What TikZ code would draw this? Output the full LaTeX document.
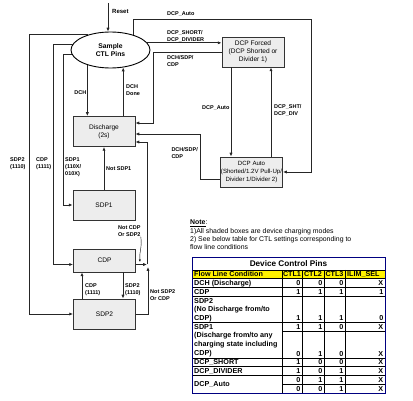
\documentclass[tikz,border=0pt]{standalone}
\usepackage{fontspec}
\setmainfont{Liberation Sans}
\usetikzlibrary{arrows.meta, shapes.geometric}

\begin{document}
\begin{tikzpicture}[x = 1pt, y = -1pt,
    mode/.style = {draw = black!80, fill = black!7, line width = 0.9pt, minimum width = 62pt, minimum height = 30pt, inner xsep = 0.5pt, inner ysep = 1pt, align = center, font = \fontsize{6.6}{7.8}\selectfont},
    flow/.style = {-{Latex[length = 3.8pt, width = 3.2pt]}, line width = 0.8pt, draw = black!85},
    cond/.style = {font = \bfseries\fontsize{5.5}{6.8}\selectfont, align = left, anchor = west, inner sep = 0pt},
    cell/.style = {font = \bfseries\fontsize{7.2}{7.5}\selectfont, inner sep = 0pt},
    rule/.style = {line width = 0.75pt}]
  \useasboundingbox (0,0) rectangle (413,401);

  \node[ellipse, draw, line width = 0.9pt, minimum width = 79pt, minimum height = 36pt, inner sep = 0pt, align = center, font = \bfseries\fontsize{6.8}{8.2}\selectfont] (ctl) at (110.5,50) {Sample\\CTL Pins};
  \node[mode] (dis)  at (104,131.5) {Discharge\\(2s)};
  \node[mode] (sdp1) at (104,205)   {SDP1};
  \node[mode, minimum height = 23pt] (cdp) at (104.5,260.5) {CDP};
  \node[mode] (sdp2) at (104.5,314) {SDP2};
  \node[mode] (dcpf) at (253,52)    {DCP Forced\\(DCP Shorted or\\Divider 1)};
  \node[mode, font = \fontsize{6.1}{7.8}\selectfont] (dcpa) at (251.5,172) {DCP Auto\\(Shorted/1.2V Pull-Up/\\Divider 1/Divider 2)};

  \coordinate (rst)     at (108,3);
  \coordinate (railA)   at (29,0);
  \coordinate (railB)   at (53,0);
  \coordinate (railC)   at (63,0);
  \coordinate (railD)   at (153,123);
  \coordinate (railE)   at (200,134);
  \coordinate (inC)     at (0,142);
  \coordinate (jn)      at (147,0);
  \coordinate (jnup)    at (148,267);
  \coordinate (colL)    at (82,0);
  \coordinate (colR)    at (123,0);
  \coordinate (colF)    at (231,0);
  \coordinate (colA)    at (271,0);
  \coordinate (autotop) at (311,19);
  \coordinate (cdpin)   at ([yshift = -4pt]cdp.west);
  \coordinate (cdpout)  at ([yshift = -4pt]cdp.east);
  \coordinate (ncdptip) at (140,262);

  \draw[flow] (rst) -- (rst |- ctl.north);
  \draw[flow] (ctl.146) -| (railA |- sdp2.west) -- (sdp2.west);
  \draw[flow] (ctl.171) -| (railB |- cdpin) -- (cdpin);
  \draw[flow] (ctl.186) -| (railC |- sdp1.west) -- (sdp1.west);
  \draw[flow] (ctl.213) -- (ctl.213 |- dis.north);
  \draw[flow] (ctl.306 |- dis.north) -- (ctl.306);
  \draw[flow] (sdp1.north) -- (sdp1.north |- dis.south);
  \draw[flow] (colL |- sdp2.north) -- (colL |- cdp.south);
  \draw[flow] (colR |- cdp.south) -- (colR |- sdp2.north);
  \draw[flow] (cdpout) -- (jn |- cdpout);
  \draw[flow] (sdp2.east) -| (jnup);
  \draw[flow] (jn |- cdpout) |- (inC -| dis.east);
  \draw[flow] (dcpf.west) -| (railD) -- (railD -| dis.east);
  \draw[flow] ([yshift = -7pt]dcpa.west) -| (railE) -- (railE -| dis.east);
  \draw[flow] (ctl.33) |- (autotop) |- (dcpa.east);
  \draw[flow] (ctl.11) -- (ctl.11 -| dcpf.west);
  \draw[flow] (colF |- dcpf.south) -- (colF |- dcpa.north);
  \draw[flow] (colA |- dcpa.north) -- (colA |- dcpf.south);

  \node[cond, font = \bfseries\fontsize{6}{7}\selectfont] (rstl) at (112,11) {Reset};
  \node[cond] (autol)  at (167,14)  {DCP\_Auto};
  \node[cond] (shortl) at (167,36)  {DCP\_SHORT/\\DCP\_DIVIDER};
  \node[cond] (backfl) at (167,61)  {DCH/SDP/\\CDP};
  \node[cond, anchor = east] (dchl) at (86.5,93) {DCH};
  \node[cond] (donel)  at (126,90)  {DCH\\Done};
  \node[cond] (sdp2l)  at (10,164)  {SDP2\\(1110)};
  \node[cond] (cdpl)   at (36,164)  {CDP\\(1111)};
  \node[cond] (sdp1l)  at (65,167)  {SDP1\\(110X/\\010X)};
  \node[cond] (nsdp1l) at (106,169) {Not SDP1};
  \node[cond] (fautol) at (202,108) {DCP\_Auto};
  \node[cond] (shtl)   at (274,110) {DCP\_SHT/\\DCP\_DIV};
  \node[cond, anchor = east] (backal) at (198,153) {DCH/SDP/\\CDP};
  \node[cond, align = center] (ncdp) at (118,231) {Not CDP\\Or SDP2};
  \node[cond] (upl)    at (85,290)  {CDP\\(1111)};
  \node[cond] (downl)  at (125,290) {SDP2\\(1110)};
  \node[cond] (nsdp2l) at (150,295) {Not SDP2\\Or CDP};
  \draw[-{Latex[length = 2.5pt, width = 2pt]}, line width = 0.4pt] (ncdp.south east) to[out = -80, in = 95] (ncdptip);

  \node[anchor = north west, align = left, inner sep = 0pt, font = \fontsize{6.9}{8.2}\selectfont] (note) at (190,220) {\textbf{\underline{Note}}:\\1)All shaded boxes are device charging modes\\2) See below table for CTL settings corresponding to\\flow line conditions};

  \fill[yellow] (192,270) rectangle (385,278.8);
  \foreach \y in {270, 278.8, 287.6, 296.4, 322.8, 358, 366.8, 375.6}
    \draw[rule] (192,\y) -- (385,\y);
  \foreach \y in {331.6, 384.4}
    \draw[rule] (282,\y) -- (385,\y);
  \foreach \x in {282, 302, 324, 345}
    \draw[rule] (\x,270) -- (\x,393.2);
  \draw[line width = 0.9pt, draw = blue!50!black] (192,257) rectangle (385,393.2);

  \node[cell, font = \bfseries\fontsize{8.2}{9}\selectfont] (title) at (288.5,263.5) {Device Control Pins};
  \node[cell, anchor = west] (h0) at (194,274.4) {Flow Line Condition};
  \node[cell] (h1) at (292,274.4)   {CTL1};
  \node[cell] (h2) at (313,274.4)   {CTL2};
  \node[cell] (h3) at (334.5,274.4) {CTL3};
  \node[cell, anchor = west] (h4) at (347,274.4) {ILIM\_SEL};
  \foreach \k/\t in {2/{DCH (Discharge)}, 3/CDP, 4/SDP2, 5/{(No Discharge from/to}, 6/{CDP)}, 7/SDP1, 8/{(Discharge from/to any}, 9/{charging state including}, 10/{CDP)}, 11/DCP\_SHORT, 12/DCP\_DIVIDER}
    \node[cell, anchor = west] (f\k) at (194,{270+8.8*(\k-0.5)}) {\t};
  \node[cell, anchor = west] (f13) at (194,384.4) {DCP\_Auto};
  \foreach \k/\a/\b/\c/\d in {2/0/0/0/X, 3/1/1/1/1, 6/1/1/1/0, 7/1/1/0/X, 10/0/1/0/X, 11/1/0/0/X, 12/1/0/1/X, 13/0/1/1/X, 14/0/0/1/X}
  {
    \node[cell, anchor = east] (v\k-1) at (300.5,{270+8.8*(\k-0.5)}) {\a};
    \node[cell, anchor = east] (v\k-2) at (322.5,{270+8.8*(\k-0.5)}) {\b};
    \node[cell, anchor = east] (v\k-3) at (343.5,{270+8.8*(\k-0.5)}) {\c};
    \node[cell, anchor = east] (v\k-4) at (383.5,{270+8.8*(\k-0.5)}) {\d};
  }
\end{tikzpicture}
\end{document}
